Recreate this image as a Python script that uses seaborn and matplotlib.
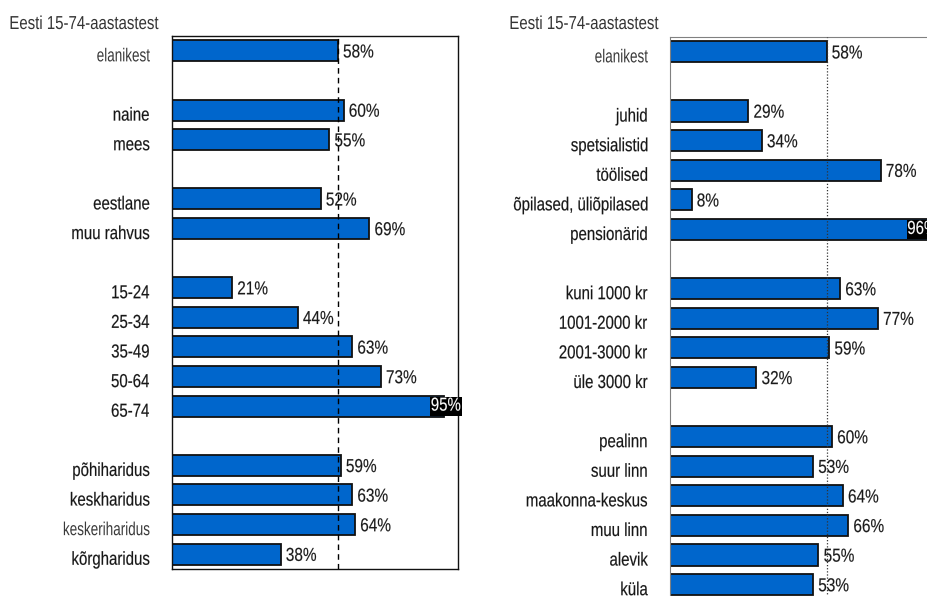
import matplotlib
matplotlib.use("Agg")
import matplotlib.pyplot as plt
import pandas as pd
import seaborn as sns
from matplotlib.patheffects import AbstractPathEffect
from matplotlib.transforms import Affine2D

# ---- data -------------------------------------------------------------
title_text = "Eesti 15-74-aastastest"
overall_share = 58

left_groups = [
    ["elanikest"],
    ["naine", "mees"],
    ["eestlane", "muu rahvus"],
    ["15-24", "25-34", "35-49", "50-64", "65-74"],
    ["põhiharidus", "keskharidus", "keskeriharidus", "kõrgharidus"],
]
left_values = [
    [58],
    [60, 55],
    [52, 69],
    [21, 44, 63, 73, 95],
    [59, 63, 64, 38],
]

right_groups = [
    ["elanikest"],
    ["juhid", "spetsialistid", "töölised", "õpilased, üliõpilased", "pensionärid"],
    ["kuni 1000 kr", "1001-2000 kr", "2001-3000 kr", "üle 3000 kr"],
    ["pealinn", "suur linn", "maakonna-keskus", "muu linn", "alevik", "küla"],
]
right_values = [
    [58],
    [29, 34, 78, 8, 96],
    [63, 77, 59, 32],
    [60, 53, 64, 66, 55, 53],
]

# labels set in the lighter type style
light_labels = {"elanikest", "keskeriharidus"}

# ---- styling ----------------------------------------------------------
sns.set_style("white")
plt.rcParams["font.family"] = ["Liberation Sans", "DejaVu Sans"]
plt.rcParams["font.size"] = 13.5

BAR_COLOR = "#0066CC"


class Condense(AbstractPathEffect):
    """Narrows the drawn shape horizontally around one of its edges."""

    def __init__(self, factor=0.8, anchor="left", stroke=0.0):
        super().__init__()
        self.factor = factor
        self.anchor = anchor
        self.stroke = stroke

    def draw_path(self, renderer, gc, tpath, affine, rgbFace=None):
        ext = tpath.get_extents(affine)
        if self.anchor == "left":
            x0 = ext.x0
        elif self.anchor == "right":
            x0 = ext.x1
        else:
            x0 = 0.5 * (ext.x0 + ext.x1)
        narrow = affine + Affine2D().translate(-x0, 0).scale(self.factor, 1).translate(x0, 0)
        if self.stroke > 0 and rgbFace is not None:
            gc0 = renderer.new_gc()
            gc0.copy_properties(gc)
            gc0.set_linewidth(self.stroke)
            gc0.set_foreground(rgbFace)
            renderer.draw_path(gc0, tpath, narrow, rgbFace)
            gc0.restore()
        else:
            renderer.draw_path(gc, tpath, narrow, rgbFace)


def build_frame(groups, values):
    rows = []
    pos = 0
    for names, vals in zip(groups, values):
        for name, val in zip(names, vals):
            rows.append({"label": name, "value": val, "pos": pos})
            pos += 1
        pos += 1  # empty row between groups
    return pd.DataFrame(rows)


def draw_panel(ax, df, n_rows, spine_color, spine_width, ref_style, big_shift):
    sns.barplot(
        data=df, x="value", y="pos", orient="h", native_scale=True,
        width=0.71, color=BAR_COLOR, saturation=1,
        edgecolor="#111111", linewidth=1.3, ax=ax,
    )
    ax.set_xlim(0, 100)
    ax.set_ylim(n_rows - 0.5, -0.5)
    ax.set_xticks([])
    ax.set_yticks([])
    ax.set_xlabel("")
    ax.set_ylabel("")
    for sp in ax.spines.values():
        sp.set_visible(True)
        sp.set_color(spine_color)
        sp.set_linewidth(spine_width)

    ax.axvline(overall_share, zorder=6, **ref_style)

    ytrans = ax.get_yaxis_transform()
    for _, r in df.iterrows():
        light = r["label"] in light_labels
        t = ax.annotate(
            r["label"], xy=(0, r["pos"]), xycoords=ytrans,
            xytext=(-16, -7.6), textcoords="offset points",
            ha="right", va="baseline", annotation_clip=False,
            color="#3a3a3a" if light else "#161616",
        )
        t.set_path_effects([Condense(0.72 if light else 0.8, "right",
                                     0.0 if light else 0.12)])

        v = r["value"]
        if v >= 90:
            t = ax.annotate(
                f"{v}%", xy=(v, r["pos"]), xytext=(big_shift, 0),
                textcoords="offset points", ha="center", va="center",
                color="white", annotation_clip=False, zorder=7,
                bbox=dict(boxstyle="square,pad=0.05", fc="black", ec="none"),
            )
            t.set_path_effects([Condense(0.8, "center", 0.1)])
            t.get_bbox_patch().set_path_effects([Condense(0.8, "center")])
        else:
            t = ax.annotate(
                f"{v}%", xy=(v, r["pos"]), xytext=(3.6, -4.8),
                textcoords="offset points", ha="left", va="baseline",
                color="#1a1a1a", annotation_clip=False, zorder=7,
            )
            t.set_path_effects([Condense(0.82, "left", 0.1)])


W, H = 928, 596
fig = plt.figure(figsize=(W / 100, H / 100), dpi=100)
fig.patch.set_facecolor("white")

# left panel: 18 rows, frame fully visible
ax_l = fig.add_axes([172 / W, 1 - 569 / H, 286 / W, 533 / H])
draw_panel(
    ax_l, build_frame(left_groups, left_values), 18,
    spine_color="#111111", spine_width=1.0,
    ref_style=dict(color="black", lw=1.0, ls=(0, (4, 3))),
    big_shift=1.5,
)

# right panel: runs past the right and bottom edges of the figure
ax_r = fig.add_axes([670 / W, 1 - 629 / H, 270 / W, 592 / H])
draw_panel(
    ax_r, build_frame(right_groups, right_values), 20,
    spine_color="#808080", spine_width=0.8,
    ref_style=dict(color="#333333", lw=0.9, ls=(0, (1, 1.5))),
    big_shift=-5,
)

for x in (9, 509):
    t = fig.text(x / W, 1 - 29 / H, title_text, ha="left", va="baseline",
                 color="#333333")
    t.set_path_effects([Condense(0.8, "left")])

fig.savefig("out.png", dpi=100, facecolor="white")
